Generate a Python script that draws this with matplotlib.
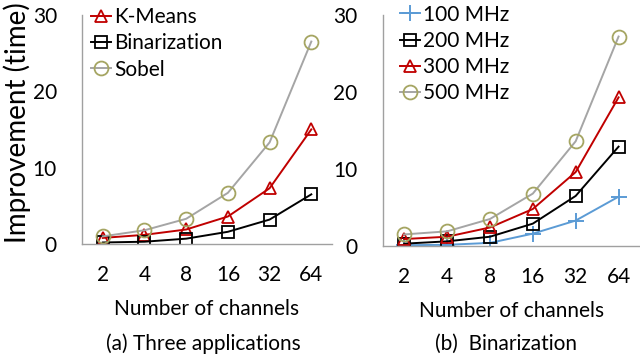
import matplotlib
matplotlib.use("Agg")
import matplotlib.pyplot as plt

channels = ["2", "4", "8", "16", "32", "64"]

# (a) three applications
kmeans = [0.8, 1.2, 1.9, 3.6, 7.3, 15.0]
binarization = [0.2, 0.3, 0.7, 1.6, 3.2, 6.5]
sobel = [1.0, 1.8, 3.3, 6.7, 13.3, 26.5]

# (b) binarization at clock rates
mhz100 = [0.1, 0.15, 0.4, 1.6, 3.3, 6.4]
mhz200 = [0.3, 0.6, 1.2, 2.9, 6.5, 12.9]
mhz300 = [0.9, 1.2, 2.4, 4.8, 9.6, 19.3]
mhz500 = [1.5, 1.9, 3.5, 6.8, 13.6, 27.2]

plt.rcParams["font.family"] = ["Lato", "DejaVu Sans"]

RED = "#C00000"
GRAY = "#A5A5A5"
OLIVE = "#A5A562"
BLUE = "#5B9BD5"
FS = 15


def style_axes(ax):
    ax.set_xlim(-0.5, len(channels) - 0.5)
    ax.set_ylim(0, 30)
    ax.set_yticks([0, 10, 20, 30])
    ax.set_xticks(range(len(channels)))
    ax.set_xticklabels(channels)
    for s in ("top", "right"):
        ax.spines[s].set_visible(False)
    for s in ("left", "bottom"):
        ax.spines[s].set_color("#A0A0A0")
        ax.spines[s].set_linewidth(1.0)
    ax.tick_params(length=0, labelsize=FS)
    ax.tick_params(axis="x", pad=15)
    ax.tick_params(axis="y", pad=18)
    ax.set_xlabel("Number of channels", fontsize=FS, labelpad=10)


fig = plt.figure(figsize=(6.4, 3.57), dpi=100)
ax1 = fig.add_axes([0.128, 0.3165, 0.391, 0.642])
ax2 = fig.add_axes([0.598, 0.311, 0.402, 0.647])

x = list(range(len(channels)))
lw = 1.4
ax1.plot(x, kmeans, color=RED, lw=lw, marker="^", ms=9, mfc="none",
         mec=RED, mew=1.3, label="K-Means")
ax1.plot(x, binarization, color="black", lw=lw, marker="s", ms=9, mfc="none",
         mec="black", mew=1.3, label="Binarization")
ax1.plot(x, sobel, color=GRAY, lw=lw, marker="o", ms=10, mfc="none",
         mec=OLIVE, mew=1.3, label="Sobel")
style_axes(ax1)
ax1.set_ylabel("Improvement (time)", fontsize=20)
ax1.yaxis.set_label_coords(-0.205, 0.53)

ax2.plot(x, mhz100, color=BLUE, lw=lw, marker="+", ms=11, mec=BLUE, mew=1.4,
         label="100 MHz")
ax2.plot(x, mhz200, color="black", lw=lw, marker="s", ms=9, mfc="none",
         mec="black", mew=1.3, label="200 MHz")
ax2.plot(x, mhz300, color=RED, lw=lw, marker="^", ms=9, mfc="none",
         mec=RED, mew=1.3, label="300 MHz")
ax2.plot(x, mhz500, color=GRAY, lw=lw, marker="o", ms=10, mfc="none",
         mec=OLIVE, mew=1.3, label="500 MHz")
style_axes(ax2)

for ax, anchor in ((ax1, (0.142, 0.98)), (ax2, (0.625, 0.987))):
    ax.legend(loc="upper left", bbox_to_anchor=anchor,
              bbox_transform=fig.transFigure, frameon=False,
              fontsize=FS, handlelength=0.95, handletextpad=0.15,
              labelspacing=0.3, borderpad=0, borderaxespad=0)

fig.text(0.317, 0.02, "(a) Three applications", ha="center", fontsize=FS)
fig.text(0.79, 0.02, "(b)  Binarization", ha="center", fontsize=FS)

fig.savefig("out.png", dpi=100)
